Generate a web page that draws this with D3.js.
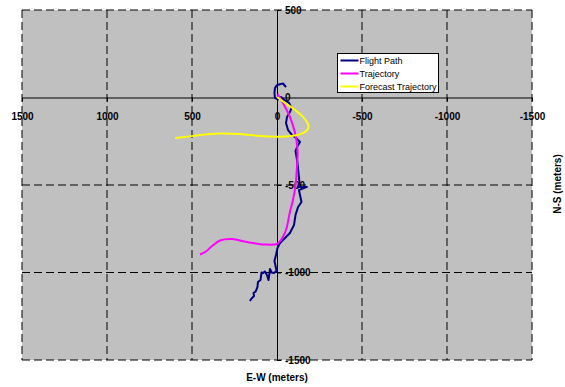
<!DOCTYPE html>
<html>
<head>
<meta charset="UTF-8">
<title>Flight Path</title>
<script src="https://cdn.jsdelivr.net/npm/d3@7"></script>
<style>
  body { margin: 0; background: #fff; }
  text { font-family: Arial, "Liberation Sans", sans-serif; }
</style>
</head>
<body>
<script>

// east-west offsets (metres), north-south offsets (metres)
var flightE = [-53, -35, 0, 12, 15, 12, -6, -24, -41, -71, -85, -76, -59, -53, -65, -88, -112, -135, -121, -109,
  -118, -126, -132, -124, -176, -129, -144, -124, -109, -100, -76, -47, -18, -3, 6, 15, 6, 3, 18, 32,
  41, 50, 59, 71, 82, 91, 97, 112, 115, 126, 138, 135, 150, 159];
var flightN = [60, 80, 71, 54, 26, -3, -11, 3, -14, -31, -60, -83, -111, -146, -186, -214, -231, -254, -277, -306,
  -357, -426, -483, -511, -511, -529, -597, -626, -671, -729, -774, -803, -831, -860, -900, -934, -974, -991, -1003, -1000,
  -980, -1043, -1014, -994, -1003, -1000, -1043, -1054, -1083, -1109, -1117, -1134, -1149, -1163];

var trajE = [-3, -35, -76, -106, -121, -118, -109, -94, -76, -53, -24, 0, 71, 176, 265, 335, 382, 418, 453];
var trajN = [20, -31, -111, -203, -300, -386, -500, -586, -654, -757, -814, -837, -840, -826, -809, -817, -849, -880, -897];

var forecastE = [0, -47, -106, -153, -182, -182, -153, -106, -47, 0, 100, 218, 335, 453, 541, 600];
var forecastN = [3, -31, -71, -111, -151, -180, -203, -217, -223, -224, -220, -209, -206, -214, -226, -231];

var xTicks = [1500, 1000, 500, 0, -500, -1000, -1500];
var yTicks = [500, 0, -500, -1000, -1500];

var seriesNames = ["Flight Path", "Trajectory", "Forecast Trajectory"];
var seriesColors = ["#000080", "#ff00ff", "#ffff00"];

var width = 565, height = 387;

var svg = d3.select("body").append("svg")
    .attr("width", width)
    .attr("height", height);

var x = d3.scaleLinear().domain([1500, -1500]).range([22, 532]);
var y = d3.scaleLinear().domain([500, -1500]).range([10, 360]);

// plot area
svg.append("rect")
    .attr("x", x(1500)).attr("y", y(500))
    .attr("width", x(-1500) - x(1500))
    .attr("height", y(-1500) - y(500))
    .attr("fill", "#c0c0c0");

// dashed grid
svg.append("g").selectAll("line")
    .data(xTicks.filter(function(d){ return d !== 0; }))
    .enter().append("line")
    .attr("x1", function(d){ return x(d); })
    .attr("x2", function(d){ return x(d); })
    .attr("y1", y(500)).attr("y2", y(-1500))
    .attr("stroke", "#000").attr("stroke-dasharray", "8,4");

svg.append("g").selectAll("line")
    .data(yTicks.filter(function(d){ return d !== 0; }))
    .enter().append("line")
    .attr("y1", function(d){ return y(d); })
    .attr("y2", function(d){ return y(d); })
    .attr("x1", x(1500)).attr("x2", x(-1500))
    .attr("stroke", "#000").attr("stroke-dasharray", "8,4");

// axes through the origin (plain hyphen for negatives, like the original)
var fmt = function(d){ return String(d); };

var xAxis = svg.append("g")
    .attr("transform", "translate(0," + y(0) + ")")
    .call(d3.axisBottom(x).tickValues(xTicks).tickSize(4).tickSizeOuter(0).tickFormat(fmt));
xAxis.selectAll("text").attr("dy", "0").attr("y", 22);

var yAxis = svg.append("g")
    .attr("transform", "translate(" + x(0) + ",0)")
    .call(d3.axisRight(y).tickValues(yTicks).tickSize(4).tickSizeOuter(0).tickFormat(fmt));
yAxis.selectAll("text").attr("x", 8);

svg.selectAll(".domain").attr("stroke", "#000");
svg.selectAll(".tick line").attr("stroke", "#000");
svg.selectAll(".tick text")
    .attr("fill", "#000")
    .style("font-family", "Arial, 'Liberation Sans', sans-serif")
    .style("font-size", "10px")
    .style("font-weight", "bold");

// series
var smooth = d3.line()
    .x(function(d){ return x(d[0]); })
    .y(function(d){ return y(d[1]); })
    .curve(d3.curveCatmullRom);
var straight = d3.line()
    .x(function(d){ return x(d[0]); })
    .y(function(d){ return y(d[1]); });

var series = [
  d3.zip(flightE, flightN),
  d3.zip(trajE, trajN),
  d3.zip(forecastE, forecastN)
];

svg.append("g").selectAll("path")
    .data(series)
    .enter().append("path")
    .attr("d", function(d, i){ return i === 0 ? straight(d) : smooth(d); })
    .attr("fill", "none")
    .attr("stroke", function(d, i){ return seriesColors[i]; })
    .attr("stroke-width", 2)
    .attr("stroke-linejoin", "round");

// legend
var legend = svg.append("g").attr("transform", "translate(337.5,53.5)");
legend.append("rect")
    .attr("width", 101).attr("height", 39)
    .attr("fill", "#fff").attr("stroke", "#000");

var item = legend.selectAll("g.item")
    .data(seriesNames)
    .enter().append("g")
    .attr("class", "item")
    .attr("transform", function(d, i){ return "translate(0," + (7 + i * 13) + ")"; });

item.append("line")
    .attr("x1", 3).attr("x2", 21)
    .attr("stroke", function(d, i){ return seriesColors[i]; })
    .attr("stroke-width", 2);

item.append("text")
    .attr("x", 22).attr("dy", "0.35em")
    .style("font-size", "9px")
    .text(function(d){ return d; });

// axis titles
svg.append("text")
    .attr("x", x(0)).attr("y", 381)
    .attr("text-anchor", "middle")
    .style("font-size", "10px").style("font-weight", "bold")
    .text("E-W (meters)");

svg.append("text")
    .attr("transform", "translate(561," + 184 + ") rotate(-90)")
    .attr("text-anchor", "middle")
    .style("font-size", "10px").style("font-weight", "bold")
    .text("N-S (meters)");

</script>
</body>
</html>
